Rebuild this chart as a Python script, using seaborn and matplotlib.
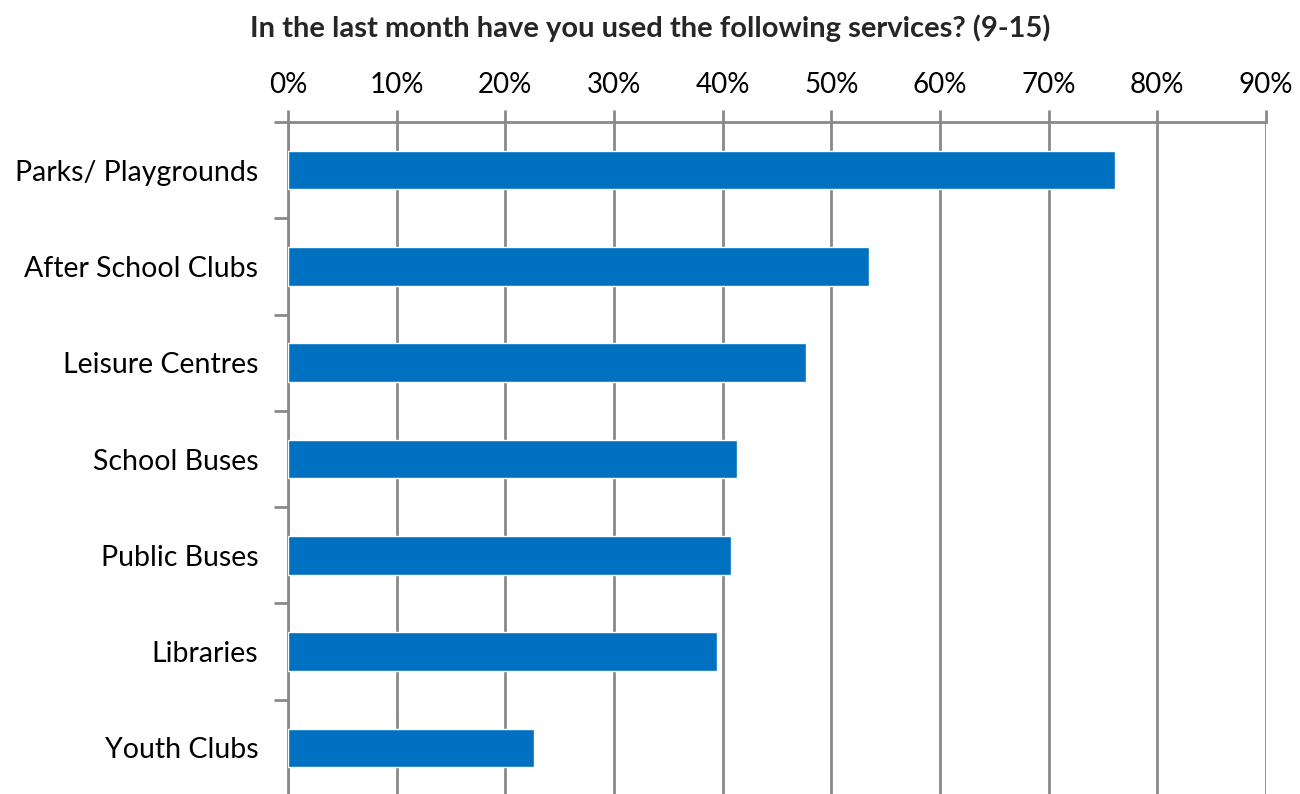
import numpy as np
import pandas as pd
import matplotlib.pyplot as plt
import seaborn as sns
from matplotlib.ticker import PercentFormatter, FixedLocator

# data
services = ["Parks/ Playgrounds", "After School Clubs", "Leisure Centres",
            "School Buses", "Public Buses", "Libraries", "Youth Clubs"]
usage = [76.1, 53.5, 47.7, 41.3, 40.8, 39.5, 22.6]
x_ticks = [0, 10, 20, 30, 40, 50, 60, 70, 80, 90]

title = "In the last month have you used the following services? (9-15)"

df = pd.DataFrame({"service": services, "usage": usage})

sns.set_style("white")
plt.rcParams['font.family'] = ['Lato', 'DejaVu Sans']

grey = "#898989"

fig = plt.figure(figsize=(13, 7.94), dpi=100)
ax = fig.add_axes([288 / 1300, -2 / 794, 978 / 1300, 674 / 794])

sns.barplot(data=df, x="usage", y="service", orient="h", color="#0070C0",
            width=0.4, saturation=1, ax=ax, zorder=3)

ax.set_xlim(0, 90)
ax.set_ylim(len(services) - 0.5, -0.5)
ax.xaxis.set_major_locator(FixedLocator(x_ticks))
ax.xaxis.set_major_formatter(PercentFormatter(decimals=0))
ax.xaxis.tick_top()
ax.grid(axis="x", color=grey, linewidth=2, zorder=0)
ax.grid(axis="y", visible=False)

ax.tick_params(axis="x", which="major", top=True, bottom=False, length=9,
               width=2, color=grey, labelsize=20, pad=8, labelcolor="black")
ax.tick_params(axis="y", which="major", left=False, labelsize=20.5, pad=18,
               labelcolor="black")
ax.yaxis.set_minor_locator(FixedLocator(np.arange(-0.5, len(services), 1)))
ax.tick_params(axis="y", which="minor", left=True, length=10, width=2,
               color=grey)

for side in ["right", "bottom"]:
    ax.spines[side].set_visible(False)
for side in ["top", "left"]:
    ax.spines[side].set_color(grey)
    ax.spines[side].set_linewidth(2)

ax.set_xlabel("")
ax.set_ylabel("")

fig.text(0.5, 1 - 28 / 794, title, ha="center", va="center",
         fontsize=21, fontweight="bold")

fig.savefig("out.png", dpi=100)
